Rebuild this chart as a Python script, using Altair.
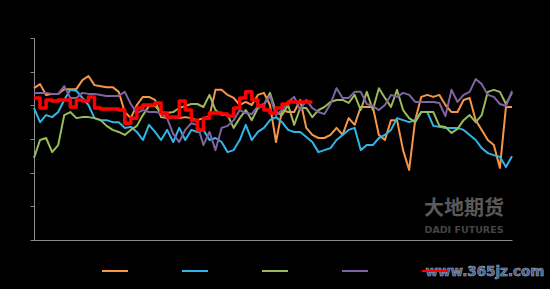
import altair as alt
import pandas as pd

days = list(range(80))
series_names = ["2016年", "2017年", "2018年", "2019年", "2020年"]
colors = ["#F79646", "#31B6EA", "#9BBB59", "#8064A2", "#FF0000"]
y_ticks = [0, 10, 20, 30, 40, 50, 60]

orange = [45.1, 46.3, 43.1, 43.4, 43.4, 44.8, 44.8, 44.8, 47.5, 48.7,
          46.0, 45.7, 45.4, 45.4, 44.0, 38.0, 36.2, 40.1, 42.5, 42.5,
          41.6, 36.5, 36.2, 36.5, 36.2, 36.5, 36.2, 35.6, 36.2, 36.8,
          44.6, 44.6, 43.1, 42.2, 40.1, 41.0, 40.1, 43.1, 43.7, 40.1,
          29.1, 38.6, 38.0, 38.0, 41.6, 33.3, 31.2, 30.3, 30.3, 31.2,
          33.3, 31.2, 36.2, 34.2, 39.5, 39.5, 39.5, 31.2, 29.7, 35.6,
          35.6, 26.7, 20.8, 35.6, 42.5, 43.1, 42.5, 43.1, 40.1, 38.0,
          38.0, 41.6, 42.2, 35.6, 32.7, 29.7, 28.2, 21.4, 39.5, 39.5]

blue = [39.2, 35.0, 37.1, 36.5, 38.0, 41.6, 44.6, 44.3, 42.2, 40.1,
        36.2, 35.6, 35.6, 35.0, 35.0, 33.3, 33.6, 32.1, 29.7, 34.2,
        32.1, 29.7, 32.7, 29.1, 33.3, 29.7, 32.7, 32.1, 32.7, 29.7,
        30.3, 29.1, 26.1, 26.7, 29.7, 34.2, 29.7, 32.1, 33.3, 35.6,
        36.5, 35.0, 32.7, 32.1, 32.1, 30.6, 29.1, 26.1, 26.7, 27.3,
        29.7, 31.2, 32.7, 33.3, 26.7, 28.2, 28.2, 30.3, 31.2, 32.7,
        36.2, 35.6, 35.0, 35.6, 38.0, 38.0, 33.9, 33.6, 33.3, 33.3,
        33.3, 32.7, 31.2, 29.7, 27.3, 25.8, 25.2, 24.7, 21.7, 24.9]

green = [24.4, 29.7, 30.3, 26.1, 28.2, 37.1, 38.0, 36.2, 36.5, 36.5,
         36.2, 35.6, 33.9, 32.7, 32.1, 31.2, 32.7, 33.9, 37.1, 39.8,
         39.8, 38.0, 37.7, 38.0, 39.2, 39.8, 40.4, 40.4, 39.5, 43.1,
         38.6, 37.1, 37.1, 33.3, 36.2, 38.6, 35.6, 39.2, 40.1, 43.7,
         38.0, 37.1, 40.1, 34.2, 39.2, 39.2, 36.5, 38.6, 39.5, 41.0,
         41.6, 41.6, 40.7, 43.1, 38.6, 44.0, 38.6, 45.1, 42.2, 39.5,
         44.6, 38.6, 36.2, 35.0, 38.0, 38.0, 38.0, 33.9, 33.6, 31.8,
         33.0, 35.6, 37.1, 35.0, 37.1, 44.0, 44.6, 44.0, 40.4, 43.7]

purple = [43.7, 43.7, 43.7, 43.4, 43.4, 45.7, 42.2, 42.2, 43.7, 43.4,
          43.4, 43.1, 42.8, 42.8, 42.8, 44.0, 40.4, 37.7, 38.6, 38.0,
          38.0, 37.7, 36.2, 31.5, 29.1, 32.7, 34.7, 34.2, 28.2, 32.1,
          26.7, 33.3, 33.9, 35.6, 38.6, 37.7, 37.4, 39.8, 40.4, 42.8,
          37.1, 38.6, 41.0, 42.5, 38.6, 41.6, 39.2, 38.0, 37.4, 40.4,
          45.1, 42.2, 42.2, 44.0, 44.0, 40.4, 39.8, 38.6, 40.1, 43.1,
          42.5, 43.7, 43.1, 41.0, 41.0, 41.0, 41.0, 40.7, 36.8, 44.6,
          41.0, 43.1, 44.0, 47.8, 46.3, 43.1, 42.5, 40.4, 39.8, 44.3]

red = [42.2, 39.2, 41.6, 41.3, 41.6, 41.6, 39.5, 41.6, 41.3, 42.5,
       39.2, 38.9, 38.9, 38.9, 38.6, 34.7, 36.2, 39.2, 40.1, 40.1,
       40.7, 37.7, 36.5, 36.5, 41.3, 38.6, 35.6, 32.7, 36.2, 37.7,
       37.7, 37.4, 36.8, 39.2, 42.2, 44.0, 41.6, 39.8, 38.6, 37.7,
       39.2, 40.4, 41.0, 41.0, 41.0, 41.0, 41.0]

rows = []
for name, vals in zip(series_names, [orange, blue, green, purple, red]):
    for d, v in zip(days, vals):
        rows.append({"day": d, "value": v, "series": name})
df = pd.DataFrame(rows)

axis_gray = "#8a8a8a"

base = alt.Chart(df).encode(
    x=alt.X("day:Q", scale=alt.Scale(domain=[0, 79], nice=False, zero=False),
            axis=alt.Axis(title=None, labels=False, ticks=False, grid=False,
                          domainColor=axis_gray, domainWidth=1)),
    y=alt.Y("value:Q", scale=alt.Scale(domain=[0, 60], nice=False),
            axis=alt.Axis(title=None, labels=False, values=y_ticks, tickSize=4,
                          tickColor=axis_gray, domainColor=axis_gray, grid=False)),
    color=alt.Color("series:N", scale=alt.Scale(domain=series_names, range=colors),
                    legend=alt.Legend(title=None, orient="none", legendX=67, legendY=219,
                                      direction="horizontal", symbolType="stroke",
                                      symbolSize=676, symbolStrokeWidth=2,
                                      labelExpr="''", labelOffset=0, columnPadding=46,
                                      padding=0)),
)

others = base.transform_filter(alt.datum.series != "2020年").mark_line(
    strokeWidth=2, strokeJoin="round")
current = base.transform_filter(alt.datum.series == "2020年").mark_line(
    strokeWidth=3.5, interpolate="step-after", strokeJoin="round")

wm1 = alt.Chart(pd.DataFrame({"t": ["大地期货"]})).mark_text(
    font="Noto Sans CJK SC", fontSize=20, fontWeight="bold", color="#5a5a5a",
    align="center", baseline="middle").encode(
    text="t:N", x=alt.value(430), y=alt.value(171))
wm2 = alt.Chart(pd.DataFrame({"t": ["DADI FUTURES"]})).mark_text(
    font="DejaVu Sans", fontSize=9.5, fontWeight="bold", color="#444444",
    align="center", baseline="middle").encode(
    text="t:N", x=alt.value(430), y=alt.value(192))
wm3 = alt.Chart(pd.DataFrame({"t": ["www.365jz.com"]})).mark_text(
    font="DejaVu Sans", fontSize=13.5, fontWeight="bold", color="#3f5f93",
    stroke="#a0a8b8", strokeWidth=0.6, align="center", baseline="middle").encode(
    text="t:N", x=alt.value(451), y=alt.value(234))

chart = alt.layer(others, current, wm1, wm2, wm3).properties(
    width=478, height=202,
    autosize=alt.AutoSizeParams(type="none"),
    padding={"left": 34, "top": 38, "right": 38, "bottom": 49},
).configure(background="black").configure_view(stroke=None)

chart.save("out.html", embed_options={"renderer": "svg", "actions": False})
